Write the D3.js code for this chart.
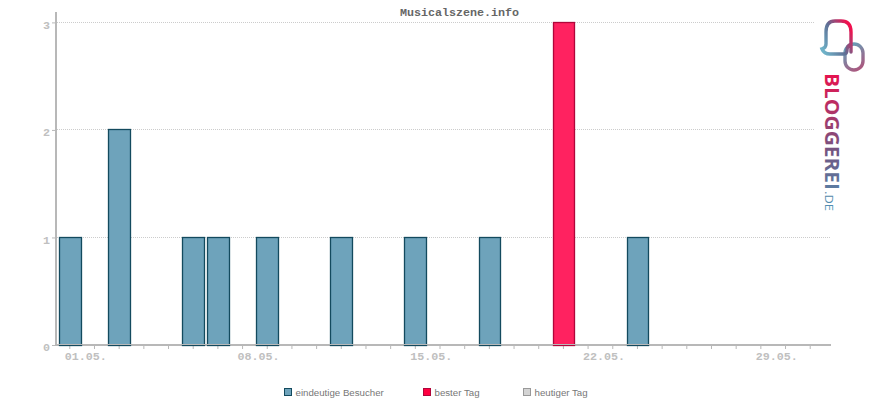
<!DOCTYPE html>
<html>
<head>
<meta charset="utf-8">
<script src="https://cdn.jsdelivr.net/npm/d3@7/dist/d3.min.js"></script>
<style>
  html, body { margin: 0; padding: 0; background: #fff; }
  svg { display: block; }
</style>
</head>
<body>
<svg id="chart" width="870" height="400"></svg>
<script>
const title = 'Musicalszene.info';
const days = [1,2,3,4,5,6,7,8,9,10,11,12,13,14,15,16,17,18,19,20,21,22,23,24,25,26,27,28,29,30,31];
const visitors = [1,0,2,0,0,1,1,0,1,0,0,1,0,0,1,0,0,1,0,0,3,0,0,1,0,0,0,0,0,0,0];
const labelledDays = [1,8,15,22,29];
const yTicks = [0,1,2,3];
const legendNames = ['eindeutige Besucher','bester Tag','heutiger Tag'];
const legendFill = ['#6ea3bb','#ff0040','#d4d4d4'];
const legendStroke = ['#134a5e','#b0063a','#999999'];

const best = d3.max(visitors);
const svg = d3.select('#chart');
const axisGrey = '#b8b8b8';
const monoFont = '"Liberation Mono", "DejaVu Sans Mono", monospace';

const x = d3.scaleBand().domain(days).range([57.47, 822.55]).paddingInner(0.12).paddingOuter(0.06);
const y = d3.scaleLinear().domain([0, 3]).range([345, 22.4]);

svg.append('text')
  .attr('x', 459.5).attr('y', 16)
  .attr('text-anchor', 'middle')
  .attr('font-family', monoFont)
  .attr('font-size', 11.7)
  .attr('font-weight', 'bold')
  .attr('fill', '#666')
  .text(title);

// dotted grid
svg.append('g').selectAll('line')
  .data(yTicks.filter(d => d > 0))
  .enter().append('line')
  .attr('x1', 57).attr('x2', 830)
  .attr('y1', d => Math.floor(y(d)) + 0.5).attr('y2', d => Math.floor(y(d)) + 0.5)
  .attr('stroke', '#cccccc')
  .attr('stroke-dasharray', '1 1');

// lower half of the base line sits under the bars
svg.append('line')
  .attr('x1', 55).attr('x2', 831).attr('y1', 345.5).attr('y2', 345.5)
  .attr('stroke', axisGrey);

// y axis
const yAxis = svg.append('g')
  .attr('transform', 'translate(56,0)')
  .call(d3.axisLeft(y).tickValues(yTicks).tickFormat(d3.format('d')).tickSize(4).tickPadding(2));
yAxis.select('.domain').remove();
yAxis.append('line').attr('x1', 0).attr('x2', 0).attr('y1', 12).attr('y2', 346)
  .attr('stroke', axisGrey).attr('stroke-width', 2);
yAxis.selectAll('.tick line').attr('stroke', axisGrey);
yAxis.selectAll('.tick text')
  .attr('dy', '0.5em')
  .attr('font-family', monoFont)
  .attr('font-size', 11.7)
  .attr('font-weight', 'bold')
  .attr('fill', '#c0c0c0');

// x axis
const xAxis = svg.append('g')
  .attr('transform', 'translate(0,346)')
  .call(d3.axisBottom(x).tickValues(days).tickSize(3).tickPadding(3)
    .tickFormat(d => labelledDays.includes(d) ? d3.format('02')(d) + '.05.' : ''));
xAxis.select('.domain').remove();
xAxis.selectAll('.tick line').attr('stroke', axisGrey);
xAxis.selectAll('.tick text')
  .attr('dx', 16)
  .attr('font-family', monoFont)
  .attr('font-size', 11.7)
  .attr('font-weight', 'bold')
  .attr('fill', '#c0c0c0');

// bars
svg.append('g').selectAll('rect')
  .data(days.filter((d, i) => visitors[i] > 0))
  .enter().append('rect')
  .attr('x', d => Math.round(x(d)) + 0.5)
  .attr('width', d => Math.round(x(d) + x.bandwidth()) - Math.round(x(d)))
  .attr('y', d => Math.floor(y(visitors[d - 1])) + 0.5)
  .attr('height', d => 345.5 - Math.floor(y(visitors[d - 1])) - 0.5)
  .attr('fill', d => visitors[d - 1] === best ? '#ff2260' : '#6ea3bb')
  .attr('stroke', d => visitors[d - 1] === best ? '#b0063a' : '#134a5e')
  .attr('stroke-width', 1.3);

// upper half of the base line runs over the bars
svg.append('line')
  .attr('x1', 55).attr('x2', 831).attr('y1', 344.5).attr('y2', 344.5)
  .attr('stroke', axisGrey);

// legend
const legendSwatchX = [284.5, 423.5, 523.5];
const legend = svg.append('g').selectAll('g')
  .data(legendNames)
  .enter().append('g')
  .attr('transform', (d, i) => `translate(${legendSwatchX[i]},388.5)`);
legend.append('rect')
  .attr('width', 7).attr('height', 7)
  .attr('fill', (d, i) => legendFill[i])
  .attr('stroke', (d, i) => legendStroke[i]);
legend.append('text')
  .attr('x', 11).attr('y', 7.5)
  .attr('font-family', '"Liberation Sans", sans-serif')
  .attr('font-size', 9.7)
  .attr('fill', '#777')
  .text(d => d);

// logo
const defs = svg.append('defs');
const ringGrad = defs.append('linearGradient').attr('id', 'ringGrad')
  .attr('gradientUnits', 'userSpaceOnUse')
  .attr('x1', 854).attr('y1', 34).attr('x2', 824).attr('y2', 52);
ringGrad.append('stop').attr('offset', 0).attr('stop-color', '#f0104e');
ringGrad.append('stop').attr('offset', 0.5).attr('stop-color', '#5e6f95');
ringGrad.append('stop').attr('offset', 1).attr('stop-color', '#6fb2c8');
const ring2Grad = defs.append('linearGradient').attr('id', 'ring2Grad')
  .attr('gradientUnits', 'userSpaceOnUse')
  .attr('x1', 845).attr('y1', 45).attr('x2', 862).attr('y2', 70);
ring2Grad.append('stop').attr('offset', 0).attr('stop-color', '#5fa6bd');
ring2Grad.append('stop').attr('offset', 1).attr('stop-color', '#b0527a');
const textGrad = defs.append('linearGradient').attr('id', 'textGrad')
  .attr('gradientUnits', 'userSpaceOnUse')
  .attr('x1', 0).attr('y1', 0).attr('x2', 138).attr('y2', 0);
textGrad.append('stop').attr('offset', 0).attr('stop-color', '#e8124e');
textGrad.append('stop').attr('offset', 0.6).attr('stop-color', '#6d5a85');
textGrad.append('stop').attr('offset', 1).attr('stop-color', '#4f93b5');

const logo = svg.append('g');
logo.append('rect').attr('x', 815).attr('y', 15).attr('width', 55).attr('height', 200).attr('fill', '#fff');
logo.append('rect')
  .attr('x', 845).attr('y', 44).attr('width', 18).attr('height', 26).attr('rx', 9)
  .attr('fill', 'none').attr('stroke', 'url(#ring2Grad)').attr('stroke-width', 3.4);
logo.append('path')
  .attr('d', 'M851 52 L851 32 Q851 21 841 21 L835 21 Q826 21 826 32 L826 44 Q826 48 822 49 Q824 54 830 54 L844 54 Q847 54 847 50 Q847 46 851 44')
  .attr('fill', 'none').attr('stroke', 'url(#ringGrad)').attr('stroke-width', 3.4).attr('stroke-linecap', 'round');

const logoText = logo.append('g').attr('transform', 'translate(825,73) rotate(90)');
logoText.append('text')
  .attr('font-family', '"Open Sans", sans-serif')
  .attr('font-weight', 'bold')
  .attr('font-size', 20)
  .attr('textLength', 117)
  .attr('lengthAdjust', 'spacingAndGlyphs')
  .attr('fill', 'url(#textGrad)')
  .text('BLOGGEREI');
logoText.append('text')
  .attr('x', 118)
  .attr('font-family', '"Open Sans", sans-serif')
  .attr('font-size', 11)
  .attr('textLength', 20)
  .attr('lengthAdjust', 'spacingAndGlyphs')
  .attr('fill', 'url(#textGrad)')
  .text('.DE');
</script>
</body>
</html>
